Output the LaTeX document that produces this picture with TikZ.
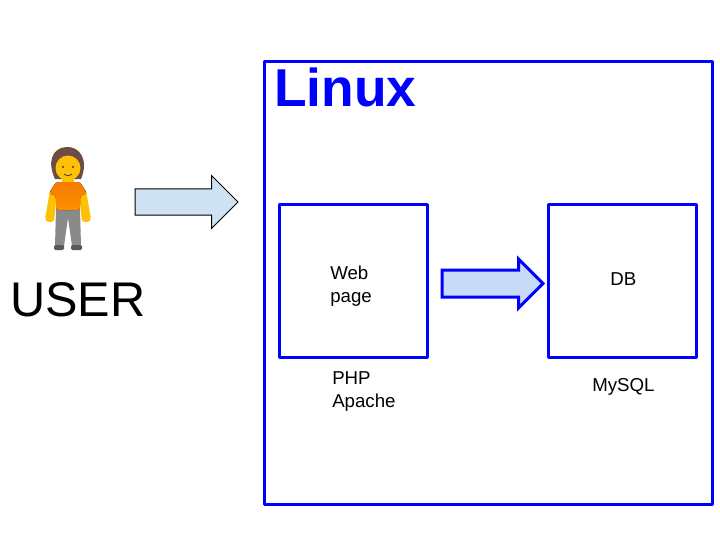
\documentclass[tikz,border=0pt]{standalone}
\usepackage{fontspec}
\setmainfont{Liberation Sans}
\usetikzlibrary{shapes.arrows}
\definecolor{hostblue}{HTML}{0000FF}
\definecolor{skin}{HTML}{FFC107}
\definecolor{hair}{HTML}{6D4C41}
\definecolor{shirt}{HTML}{F57C00}
\definecolor{shirtlow}{HTML}{FF8F00}
\definecolor{trousers}{HTML}{8A8A8A}
\definecolor{arrowpale}{HTML}{CFE2F3}
\definecolor{arrowblue}{HTML}{C9DAF8}
\tikzset{
  hostbox/.style={draw=hostblue,line width=2.25pt,line join=round},
  blockarrow/.style={single arrow,anchor=tail,inner xsep=0pt,line join=miter},
  label/.style={anchor=base west,font=\fontsize{14}{17.25}\selectfont,align=left,inner sep=0pt},
}
\begin{document}
\begin{tikzpicture}[x=0.75pt,y=-0.75pt]
\useasboundingbox (0,0) rectangle (720,540);
\fill[white] (0,0) rectangle (720,540);
% user figure
\fill[skin,rounded corners=2pt] (45,219) -- (50,190) -- (57,190) -- (55,212) -- (54,222) -- (47,222) -- cycle;
\fill[skin,rounded corners=2pt] (91,219) -- (86,190) -- (79,190) -- (81,212) -- (82,222) -- (89,222) -- cycle;
\fill[hair] (55,179) .. controls (47,162) and (52,148) .. (66,147) .. controls (80,146) and (89,160) .. (81,179) -- cycle;
\fill[skin] (68,168) circle (12.5);
\fill[skin] (62,176) rectangle (74,186);
\fill[hair!70!black] (63,167) circle (1.2) (73,167) circle (1.2);
\draw[hair!70!black,line width=0.6pt] (64,174) .. controls (66,176) and (70,176) .. (72,174);
\fill[trousers] (56,209) -- (80,209) -- (81,246) -- (72,246) -- (68,218) -- (64,246) -- (55,246) -- cycle;
\fill[top color=shirt,bottom color=shirtlow,rounded corners=2pt] (49,193) -- (56,182) -- (80,182) -- (87,193) -- (80,196) -- (80,210) -- (56,210) -- (56,196) -- cycle;
\fill[black!65,rounded corners=1pt] (54,245) rectangle (64,250);
\fill[black!65,rounded corners=1pt] (71,245) rectangle (82,250);
\node (userlabel) at (78,300) {\fontsize{36.5}{40}\selectfont USER};
% hosts
\node[hostbox,minimum width=336pt,minimum height=332.25pt] (linux) at (488,282.5) {};
\node[anchor=base west,inner sep=0pt,text=hostblue,font=\fontsize{40}{44}\selectfont\bfseries] (linuxlabel) at (274,106) {Linux};
\node[hostbox,minimum width=111pt,minimum height=114.75pt] (web) at (353,280.5) {};
\node[hostbox,minimum width=111pt,minimum height=114.75pt] (db) at (622,280.5) {};
\node[label] (weblabel) at (330,302) {Web\\page};
\node[label] (dblabel) at (610,285) {DB};
\node[label] (phplabel) at (332,407) {PHP\\Apache};
\node[label] (mysqllabel) at (592,391) {MySQL};
% arrows
\node[blockarrow,draw=black,line width=0.75pt,fill=arrowpale,inner ysep=9.4pt,single arrow head extend=10.1pt,minimum height=77.25pt] (userarrow) at (134.5,202) {};
\node[blockarrow,draw=hostblue,line width=2.25pt,fill=arrowblue,inner ysep=9pt,single arrow head extend=8.25pt,minimum height=75.75pt] (webarrow) at (440.5,283.5) {};
\end{tikzpicture}
\end{document}
